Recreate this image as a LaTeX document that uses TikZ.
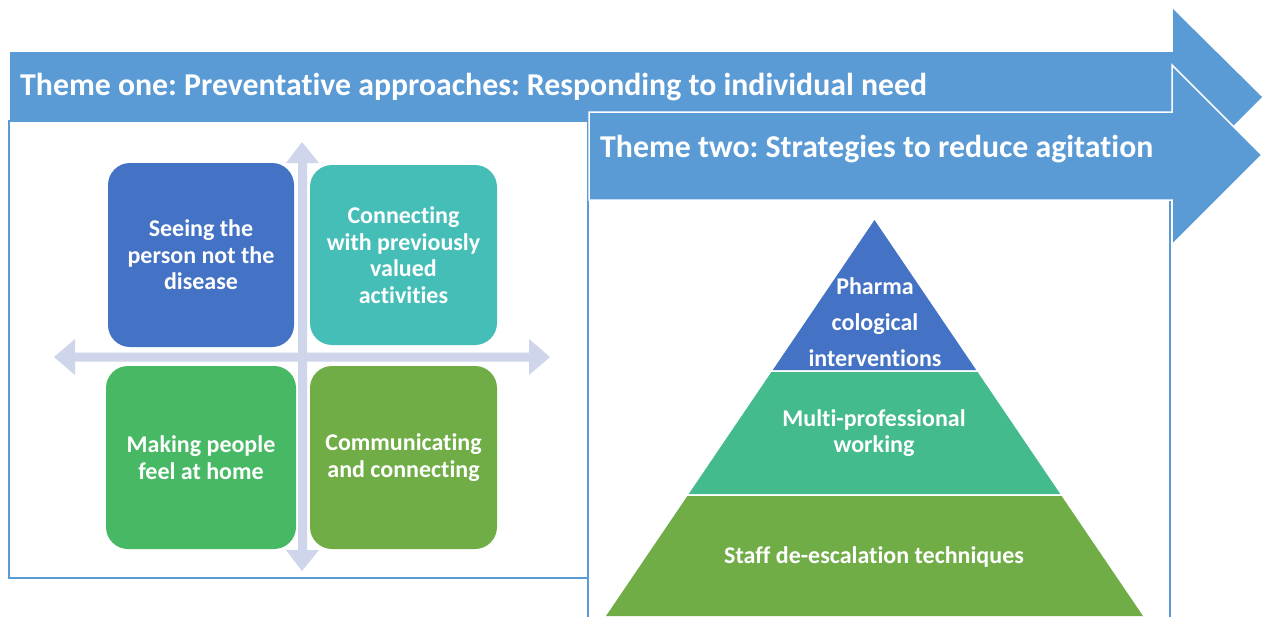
\documentclass[tikz,border=0pt]{standalone}
\usepackage{fontspec}
\setmainfont{Carlito}[Ligatures=NoCommon]
\frenchspacing
\definecolor{themeblue}{HTML}{5B9BD5}
\definecolor{qblue}{HTML}{4472C4}
\definecolor{qteal}{HTML}{46BEB8}
\definecolor{qgreen}{HTML}{47B864}
\definecolor{qolive}{HTML}{70AD47}
\definecolor{pmid}{HTML}{44BB8D}
\definecolor{lav}{HTML}{CFD5EA}
\tikzset{
  themearrow/.style={fill=themeblue},
  panel/.style={draw=themeblue, line width=2.5pt, fill=white},
  quad/.style={rounded corners=22pt, inner sep=0pt, text=white, align=center,
    font=\bfseries\fontsize{24}{26.5}\selectfont},
  themetext/.style={inner sep=0pt, anchor=base west, text=white,
    font=\bfseries\fontsize{31.8}{36}\selectfont},
  tier/.style={draw=white, line width=2pt, line join=miter},
  tiertext/.style={inner sep=0pt, text=white, align=center},
}
\begin{document}
\begin{tikzpicture}[x=1pt,y=-1pt]
\useasboundingbox (0,0) rectangle (1264,616);
% panel one
\draw[panel] (9,121) rectangle (588,578);
% arrow one
\fill[themearrow] (10,52) -- (1173,52) -- (1173,9) -- (1262,97) -- (1173,186) -- (1173,121) -- (10,121) -- cycle;
\node[themetext] (t1) at (20,95) {Theme one: Preventative approaches: Responding to individual need};
% cross arrows
\fill[lav] (298,163) -- (286,163) -- (302,142) -- (319,163) -- (307,163) -- (307,550) -- (319,550) -- (302,571) -- (286,550) -- (298,550) -- cycle;
\fill[lav] (75,352.5) -- (75,339) -- (54,357) -- (75,375) -- (75,361.5) -- (529,361.5) -- (529,375) -- (550,357) -- (529,339) -- (529,352.5) -- cycle;
% quadrants
\node[quad, fill=qblue, minimum width=186pt, minimum height=184pt] (q1) at (201,255) {Seeing the\\person not the\\disease};
\node[quad, fill=qteal, minimum width=187pt, minimum height=180pt] (q2) at (403.5,255) {Connecting\\with previously\\valued\\activities};
\node[quad, fill=qgreen, minimum width=190pt, minimum height=183pt] (q3) at (201,457.5) {Making people\\feel at home};
\node[quad, fill=qolive, minimum width=187pt, minimum height=183pt] (q4) at (403.5,457.5) {Communicating\\and connecting};
% panel two
\draw[panel] (588,200) rectangle (1170,640);
% arrow two
\draw[themearrow, draw=white, line width=1.5pt] (589,112) -- (1172,112) -- (1172,65) -- (1262,155) -- (1172,245) -- (1172,200) -- (589,200) -- cycle;
\node[themetext] (t2) at (600,157) {Theme two: Strategies to reduce agitation};
% pyramid
\fill[qblue] (874.5,220) -- (976.2,370) -- (772.8,370) -- cycle;
\fill[pmid] (771.4,372) -- (977.6,372) -- (1060.3,494) -- (688.7,494) -- cycle;
\fill[qolive] (687.4,496) -- (1061.6,496) -- (1143,616) -- (606,616) -- cycle;
\node[tiertext, font=\bfseries\fontsize{24}{36}\selectfont] (p1) at (875,322) {Pharma\\cological\\interventions};
\node[tiertext, font=\bfseries\fontsize{24}{26.5}\selectfont] (p2) at (874,433) {Multi-professional\\working};
\node[tiertext, font=\bfseries\fontsize{24}{26.5}\selectfont] (p3) at (874,557) {Staff de-escalation techniques};
\end{tikzpicture}
\end{document}
